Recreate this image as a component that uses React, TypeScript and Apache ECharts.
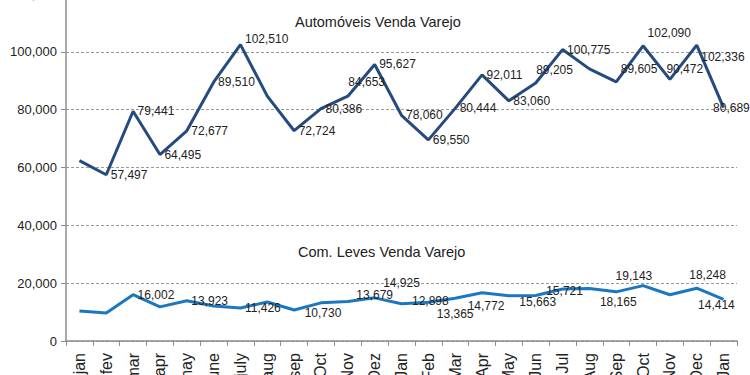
import React, { useEffect, useRef } from "react";
import * as echarts from "echarts";

const categories = ["jan","fev","mar","apr","may","june","july","aug","sep","Oct","Nov","Dez","Jan","Feb","Mar","Apr","May","Jun","Jul","Aug","Sep","Oct","Nov","Dec","Jan"];
const autoValues = [62400,57497,79441,64495,72677,89510,102510,84700,72724,80386,84653,95627,78060,69550,80444,92011,83060,89205,100775,94100,89605,102090,90472,102336,80689];
const autoShowLabel = [false,true,true,true,true,true,true,false,true,true,true,true,true,true,true,true,true,true,true,false,true,true,true,true,true];
const leveValues = [10400,9700,16002,11800,13923,12100,11426,13500,10730,13200,13679,14925,12898,13365,14772,16700,15663,15721,18000,18165,17000,19143,16000,18248,14414];
const leveShowLabel = [false,false,true,false,true,false,true,false,true,false,true,true,true,true,true,false,true,true,false,true,false,true,false,true,true];
const yTicks = [0, 20000, 40000, 60000, 80000, 100000, 120000];
const titleAuto = "Automóveis Venda Varejo";
const titleLeve = "Com. Leves Venda Varejo";

const autoOffsets: Record<number, [number, number]> = {
  6: [0, -6], 10: [-4, -14], 17: [-4, -13], 20: [0, -13], 21: [0, -13], 22: [-8, -10], 23: [0, 12], 24: [-15, 0],
};
const leveOffsets: Record<number, [number, number]> = {
  8: [6, 3], 10: [4, -6], 11: [4, -15], 12: [6, -3], 13: [4, 12], 14: [8, 8], 16: [6, 6], 17: [6, -5], 19: [6, 14], 21: [-32, -10], 23: [-12, -13], 24: [-30, 6],
};

export default function App() {
  const ref = useRef<HTMLDivElement>(null);
  useEffect(() => {
    if (!ref.current) return;
    const chart = echarts.init(ref.current, null, { renderer: "svg" });
    const font = "Liberation Sans";
    const mk = (vals: number[], show: boolean[], offs: Record<number, [number, number]>) =>
      vals.map((v, i) => ({
        value: v,
        label: { show: show[i], offset: offs[i] || [0, 0] },
      }));
    const lbl = { show: true, position: "right", distance: 4, fontSize: 12, color: "#222", fontFamily: font, formatter: (p: any) => Number(p.value).toLocaleString("en-US") };
    chart.setOption({
      animation: false,
      textStyle: { fontFamily: font },
      grid: { left: 66, right: 13, top: 6, bottom: 34, containLabel: false, outerBoundsMode: "none" },
      title: [
        { text: titleAuto, left: 290, top: 21, textStyle: { fontFamily: font, fontSize: 14.5, fontWeight: "normal", color: "#222" } },
        { text: titleLeve, left: 293, top: 251, textStyle: { fontFamily: font, fontSize: 14.5, fontWeight: "normal", color: "#222" } },
      ],
      xAxis: {
        type: "category",
        data: categories,
        boundaryGap: true,
        axisLine: { lineStyle: { color: "#8c8c8c", width: 1.5 } },
        axisTick: { show: true, length: 5, alignWithLabel: false, lineStyle: { color: "#8c8c8c" } },
        axisLabel: { rotate: 90, fontSize: 16, color: "#222", margin: 12, fontFamily: font, interval: 0 },
      },
      yAxis: {
        type: "value",
        min: 0,
        max: 120000,
        interval: 20000,
        axisLine: { show: true, lineStyle: { color: "#8c8c8c", width: 1.5 } },
        axisTick: { show: true, length: 5, lineStyle: { color: "#8c8c8c" } },
        axisLabel: {
          fontSize: 13,
          color: "#222",
          margin: 9,
          fontFamily: font,
          formatter: (v: number) => (yTicks.includes(v) ? v.toLocaleString("en-US") : ""),
        },
        splitLine: { lineStyle: { type: [3, 2], color: "#9a9a9a", width: 1 } },
      },
      series: [
        {
          type: "line",
          name: titleAuto,
          data: mk(autoValues, autoShowLabel, autoOffsets),
          symbol: "circle",
          symbolSize: 1,
          showSymbol: true,
          itemStyle: { color: "rgba(0,0,0,0)" },
          lineStyle: { color: "#254B7E", width: 3 },
          label: lbl,
        },
        {
          type: "line",
          name: titleLeve,
          data: mk(leveValues, leveShowLabel, leveOffsets),
          symbol: "circle",
          symbolSize: 1,
          showSymbol: true,
          itemStyle: { color: "rgba(0,0,0,0)" },
          lineStyle: { color: "#1C77C3", width: 3 },
          label: lbl,
        },
      ],
    });
    return () => chart.dispose();
  }, []);
  return (
    <div style={{ position: "absolute", left: 0, top: 0, width: 750, height: 375, overflow: "hidden", background: "#fff" }}>
      <div ref={ref} style={{ width: 750, height: 387, position: "absolute", left: 0, top: -12 }} />
    </div>
  );
}
